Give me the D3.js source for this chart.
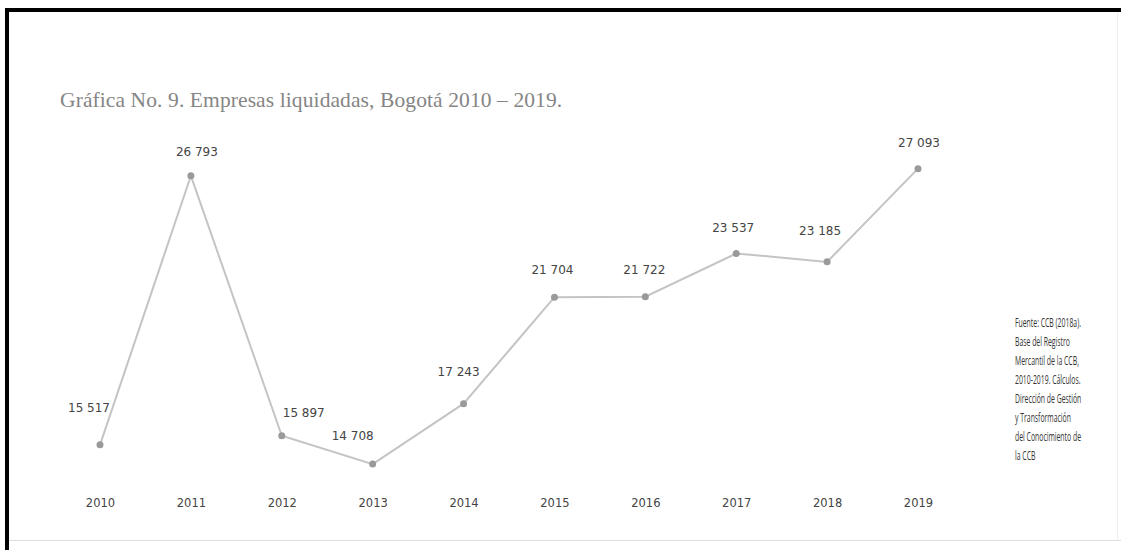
<!DOCTYPE html>
<html><head><meta charset="utf-8">
<script src="https://cdn.jsdelivr.net/npm/d3@7"></script>
<style>body{margin:0;background:#fff;}svg{display:block;}</style>
</head><body>
<script>
const years = ["2010","2011","2012","2013","2014","2015","2016","2017","2018","2019"];
const values = [15517,26793,15897,14708,17243,21704,21722,23537,23185,27093];
const valueLabels = ["15 517","26 793","15 897","14 708","17 243","21 704","21 722","23 537","23 185","27 093"];
const labelDx = [-11,6,22,-20,-5,-2,-1,-3,-7,1];
const labelDy = [-33,-20,-19,-24,-28,-23,-23,-21,-27,-22];
const title = "Gráfica No. 9. Empresas liquidadas, Bogotá 2010 – 2019.";
const sourceLines = ["Fuente: CCB (2018a).","Base del Registro","Mercantil de la CCB,","2010-2019. Cálculos.","Dirección de Gestión","y Transformación","del Conocimiento de","la CCB"];

const W = 1121, H = 550;
const svg = d3.select("body").append("svg").attr("width", W).attr("height", H);

// frame
svg.append("rect").attr("x",5).attr("y",8).attr("width",W).attr("height",4).attr("fill","#000");
svg.append("rect").attr("x",5).attr("y",8).attr("width",4).attr("height",H).attr("fill","#000");
svg.append("line").attr("x1",9).attr("x2",W).attr("y1",540.5).attr("y2",540.5).attr("stroke","#ddd").attr("stroke-width",1);
svg.append("line").attr("x1",1117.5).attr("x2",1117.5).attr("y1",12).attr("y2",540).attr("stroke","#eee").attr("stroke-width",1);

svg.append("text").attr("x",60).attr("y",107).text(title)
  .attr("font-family","'Liberation Serif','DejaVu Serif',serif").attr("font-size",21.5)
  .attr("letter-spacing",0.1).attr("fill","#858585");

const x = d3.scalePoint().domain(years).range([100,918]);
const y = d3.scaleLinear().domain([14000,28000]).range([481,147]);

const xAxis = svg.append("g").attr("transform","translate(0,493)")
  .call(d3.axisBottom(x).tickSize(0).tickPadding(6));
xAxis.select(".domain").remove();
xAxis.selectAll("text").attr("font-family","'DejaVu Sans',sans-serif").attr("font-size",11.5).attr("fill","#444");

const data = years.map((yr,i)=>({yr, v:values[i], lab:valueLabels[i], dx:labelDx[i], dy:labelDy[i]}));

svg.append("path").datum(data)
  .attr("d", d3.line().x(d=>x(d.yr)).y(d=>y(d.v)))
  .attr("fill","none").attr("stroke","#c4c4c4").attr("stroke-width",2);

svg.selectAll("circle.pt").data(data).enter().append("circle").attr("class","pt")
  .attr("cx",d=>x(d.yr)).attr("cy",d=>y(d.v)).attr("r",3.5).attr("fill","#9a9a9a");

svg.selectAll("text.lab").data(data).enter().append("text").attr("class","lab")
  .attr("x",d=>x(d.yr)+d.dx).attr("y",d=>y(d.v)+d.dy)
  .attr("text-anchor","middle")
  .attr("font-family","'DejaVu Sans',sans-serif").attr("font-size",12).attr("fill","#444")
  .text(d=>d.lab);

const src = svg.append("g").attr("transform","translate(1015,0) scale(0.55,1)");
src.selectAll("text").data(sourceLines).enter().append("text")
  .attr("x",0).attr("y",(d,i)=>327+i*19)
  .attr("font-family","'Open Sans','DejaVu Sans',sans-serif").attr("font-size",12.5).attr("fill","#333")
  .text(d=>d);
</script>
</body></html>
